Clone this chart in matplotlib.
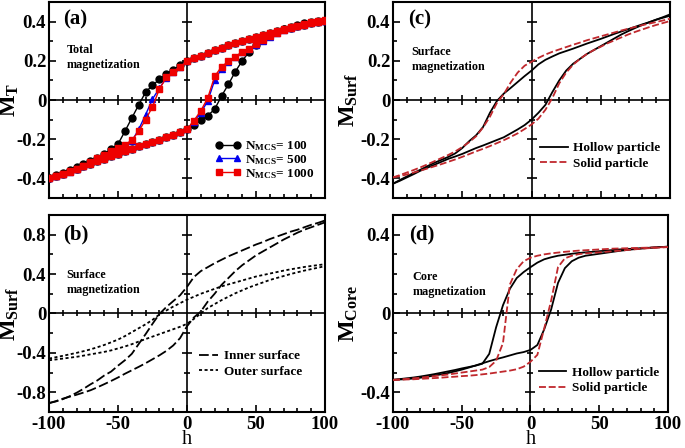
import matplotlib
matplotlib.use("Agg")
import matplotlib.pyplot as plt
from matplotlib.ticker import MultipleLocator, FuncFormatter
import numpy as np

plt.rcParams["font.family"] = "Liberation Serif"
plt.rcParams["font.weight"] = "bold"
plt.rcParams["mathtext.fontset"] = "custom"
plt.rcParams["mathtext.rm"] = "Liberation Serif:bold"
plt.rcParams["mathtext.it"] = "Liberation Serif:bold"
plt.rcParams["mathtext.bf"] = "Liberation Serif:bold"
plt.rcParams["axes.unicode_minus"] = False
plt.rcParams["lines.scale_dashes"] = False

# field values (same grid for every branch)
h = [-100, -95, -90, -85, -80, -75, -70, -65, -60, -55, -50, -45, -40, -35, -30,
     -25, -20, -15, -10, -5, 0, 5, 10, 15, 20, 25, 30, 35, 40, 45, 50, 55, 60,
     65, 70, 75, 80, 85, 90, 95, 100]

# (a) total magnetization, upper (field going down) and lower (field going up) branches
mt_upper_right = [0.197, 0.213, 0.227, 0.241, 0.254, 0.267, 0.279, 0.291, 0.302,
                  0.313, 0.323, 0.333, 0.342, 0.351, 0.360, 0.369, 0.377, 0.385,
                  0.393, 0.400, 0.405]
mt100_up = [-0.400, -0.385, -0.370, -0.355, -0.340, -0.325, -0.310, -0.295, -0.275,
            -0.250, -0.225, -0.160, -0.092, -0.025, 0.040, 0.075, 0.105, 0.135,
            0.155, 0.178] + mt_upper_right
mt100_low = [-0.400, -0.388, -0.376, -0.363, -0.350, -0.337, -0.325, -0.312, -0.300,
             -0.287, -0.275, -0.262, -0.249, -0.236, -0.224, -0.213, -0.203, -0.190,
             -0.180, -0.164, -0.150, -0.126, -0.103, -0.080, -0.047, 0.020, 0.080,
             0.145, 0.200, 0.245, 0.280, 0.310, 0.330, 0.348, 0.362, 0.373, 0.383,
             0.391, 0.397, 0.402, 0.405]
mt500_up = [-0.400, -0.390, -0.380, -0.367, -0.352, -0.336, -0.318, -0.298, -0.280,
            -0.262, -0.245, -0.228, -0.210, -0.150, -0.075, 0.005, 0.060, 0.113,
            0.145, 0.170] + mt_upper_right
mt500_low = [-0.400, -0.388, -0.376, -0.363, -0.350, -0.337, -0.325, -0.312, -0.300,
             -0.287, -0.275, -0.262, -0.249, -0.236, -0.224, -0.213, -0.203, -0.190,
             -0.180, -0.164, -0.150, -0.110, -0.065, -0.005, 0.100, 0.160, 0.195,
             0.220, 0.243, 0.260, 0.283, 0.303, 0.323, 0.340, 0.356, 0.369, 0.380,
             0.389, 0.396, 0.401, 0.405]
mt1000_up = [-0.400, -0.390, -0.380, -0.367, -0.352, -0.336, -0.318, -0.298, -0.280,
             -0.262, -0.245, -0.228, -0.205, -0.160, -0.100, -0.035, 0.056, 0.115,
             0.145, 0.170] + mt_upper_right
mt1000_low = [-0.400, -0.388, -0.376, -0.363, -0.350, -0.337, -0.325, -0.312, -0.300,
              -0.287, -0.275, -0.262, -0.249, -0.236, -0.224, -0.213, -0.203, -0.190,
              -0.180, -0.164, -0.150, -0.105, -0.055, 0.010, 0.120, 0.170, 0.197,
              0.222, 0.245, 0.262, 0.285, 0.305, 0.325, 0.342, 0.358, 0.370, 0.380,
              0.390, 0.396, 0.402, 0.407]

# (b) inner / outer surface of the hollow particle
inner_up = [-0.910, -0.893, -0.870, -0.840, -0.805, -0.765, -0.720, -0.680, -0.630,
            -0.590, -0.530, -0.475, -0.410, -0.310, -0.210, -0.105, -0.005, 0.065,
            0.125, 0.185, 0.270, 0.370, 0.430, 0.470, 0.510, 0.545, 0.580, 0.610,
            0.640, 0.670, 0.700, 0.725, 0.755, 0.780, 0.805, 0.830, 0.850, 0.875,
            0.900, 0.920, 0.944]
inner_low = [-0.910, -0.890, -0.865, -0.845, -0.825, -0.803, -0.780, -0.750, -0.718,
             -0.685, -0.650, -0.612, -0.577, -0.542, -0.505, -0.465, -0.425, -0.380,
             -0.325, -0.250, -0.130, -0.040, 0.020, 0.120, 0.200, 0.290, 0.360,
             0.430, 0.490, 0.540, 0.590, 0.630, 0.670, 0.710, 0.750, 0.785, 0.820,
             0.850, 0.875, 0.900, 0.925]
outer_up = [-0.458, -0.444, -0.430, -0.415, -0.400, -0.383, -0.365, -0.343, -0.320,
            -0.293, -0.265, -0.230, -0.190, -0.150, -0.110, -0.065, -0.010, 0.030,
            0.070, 0.105, 0.140, 0.170, 0.200, 0.225, 0.250, 0.275, 0.295, 0.315,
            0.335, 0.355, 0.375, 0.390, 0.405, 0.420, 0.435, 0.448, 0.460, 0.472,
            0.482, 0.491, 0.500]
outer_low = [-0.475, -0.467, -0.458, -0.449, -0.440, -0.428, -0.415, -0.403, -0.390,
             -0.375, -0.355, -0.335, -0.312, -0.285, -0.260, -0.235, -0.210, -0.185,
             -0.160, -0.135, -0.105, -0.055, 0.000, 0.055, 0.095, 0.135, 0.170,
             0.205, 0.235, 0.265, 0.290, 0.315, 0.340, 0.360, 0.380, 0.400, 0.418,
             0.435, 0.450, 0.465, 0.480]

# (c) surface magnetization: hollow vs solid particle
surf_hollow_up = [-0.427, -0.408, -0.390, -0.372, -0.355, -0.337, -0.320, -0.305,
                  -0.290, -0.272, -0.245, -0.210, -0.180, -0.138, -0.065, -0.005,
                  0.033, 0.062, 0.092, 0.122, 0.150, 0.182, 0.205, 0.222, 0.238,
                  0.250, 0.262, 0.275, 0.288, 0.300, 0.312, 0.325, 0.338, 0.350,
                  0.362, 0.374, 0.386, 0.397, 0.410, 0.423, 0.437]
surf_hollow_low = [-0.427, -0.412, -0.395, -0.378, -0.360, -0.345, -0.330, -0.315,
                   -0.300, -0.288, -0.275, -0.260, -0.245, -0.232, -0.218, -0.204,
                   -0.190, -0.170, -0.150, -0.128, -0.100, -0.065, -0.025, 0.040,
                   0.100, 0.150, 0.185, 0.210, 0.235, 0.255, 0.275, 0.295, 0.315,
                   0.335, 0.352, 0.368, 0.383, 0.397, 0.410, 0.420, 0.430]
surf_solid_up = [-0.395, -0.383, -0.370, -0.357, -0.343, -0.328, -0.312, -0.296,
                 -0.280, -0.262, -0.240, -0.215, -0.185, -0.140, -0.085, -0.015,
                 0.030, 0.090, 0.140, 0.175, 0.195, 0.215, 0.232, 0.246, 0.258,
                 0.270, 0.282, 0.293, 0.305, 0.315, 0.325, 0.335, 0.345, 0.355,
                 0.364, 0.373, 0.382, 0.390, 0.398, 0.406, 0.415]
surf_solid_low = [-0.395, -0.388, -0.380, -0.370, -0.360, -0.349, -0.338, -0.327,
                  -0.315, -0.303, -0.290, -0.276, -0.262, -0.249, -0.235, -0.220,
                  -0.205, -0.188, -0.170, -0.148, -0.125, -0.095, -0.050, 0.010,
                  0.085, 0.140, 0.180, 0.210, 0.235, 0.255, 0.272, 0.290, 0.305,
                  0.320, 0.335, 0.348, 0.360, 0.372, 0.383, 0.393, 0.403]

# (d) core magnetization: hollow vs solid particle
core_hollow_up = [-0.337, -0.333, -0.329, -0.325, -0.320, -0.314, -0.308, -0.301,
                  -0.294, -0.287, -0.279, -0.272, -0.265, -0.255, -0.205, -0.070,
                  0.042, 0.125, 0.180, 0.210, 0.235, 0.258, 0.275, 0.285, 0.293,
                  0.298, 0.303, 0.307, 0.310, 0.313, 0.316, 0.319, 0.322, 0.325,
                  0.327, 0.329, 0.331, 0.333, 0.335, 0.337, 0.339]
core_hollow_low = [-0.337, -0.335, -0.333, -0.330, -0.326, -0.321, -0.315, -0.309,
                   -0.302, -0.294, -0.285, -0.275, -0.264, -0.253, -0.242, -0.232,
                   -0.223, -0.213, -0.203, -0.196, -0.185, -0.160, -0.080, 0.020,
                   0.155, 0.230, 0.265, 0.283, 0.293, 0.298, 0.303, 0.308, 0.313,
                   0.318, 0.322, 0.326, 0.329, 0.332, 0.335, 0.337, 0.339]
core_solid_up = [-0.337, -0.335, -0.332, -0.329, -0.326, -0.322, -0.318, -0.314,
                 -0.310, -0.305, -0.300, -0.295, -0.290, -0.285, -0.272, -0.240,
                 -0.150, 0.147, 0.225, 0.265, 0.283, 0.293, 0.300, 0.305, 0.309,
                 0.313, 0.316, 0.319, 0.321, 0.323, 0.325, 0.327, 0.329, 0.330,
                 0.331, 0.332, 0.333, 0.334, 0.335, 0.336, 0.337]
core_solid_low = [-0.337, -0.336, -0.335, -0.334, -0.332, -0.330, -0.328, -0.326,
                  -0.323, -0.321, -0.318, -0.316, -0.313, -0.309, -0.305, -0.300,
                  -0.295, -0.290, -0.283, -0.270, -0.245, -0.210, -0.075, 0.065,
                  0.235, 0.280, 0.293, 0.301, 0.305, 0.308, 0.310, 0.313, 0.316,
                  0.319, 0.322, 0.325, 0.328, 0.331, 0.333, 0.335, 0.337]


def fmt(v, pos):
    if abs(v) < 1e-9:
        return "0"
    return f"{v:g}"


def style_axes(ax, ymajor, yminor, ylim, xlabels):
    ax.set_xlim(-100, 100)
    ax.set_ylim(*ylim)
    ax.xaxis.set_major_locator(MultipleLocator(50))
    ax.xaxis.set_minor_locator(MultipleLocator(10))
    ax.yaxis.set_major_locator(MultipleLocator(ymajor))
    ax.yaxis.set_minor_locator(MultipleLocator(yminor))
    ax.yaxis.set_major_formatter(FuncFormatter(fmt))
    ax.xaxis.set_major_formatter(FuncFormatter(fmt))
    ax.tick_params(which="both", direction="in", top=False, right=False,
                   width=1.2, labelsize=13.5)
    ax.tick_params(which="major", length=5)
    ax.tick_params(which="minor", length=3)
    ax.tick_params(axis="x", pad=3, labelbottom=xlabels)
    ax.tick_params(axis="y", pad=2)
    for s in ax.spines.values():
        s.set_linewidth(1.5)
    ax.axhline(0, color="black", lw=1.2, zorder=1)
    ax.axvline(0, color="black", lw=1.2, zorder=1)
    # ticks crossing the zero lines
    xt = [v for v in ax.xaxis.get_majorticklocs() if -100 < v < 100 and v != 0]
    xm = [v for v in ax.xaxis.get_minorticklocs() if -100 < v < 100 and v % 50 != 0]
    yt = [v for v in ax.yaxis.get_majorticklocs() if ylim[0] < v < ylim[1] and abs(v) > 1e-9]
    ym = [v for v in ax.yaxis.get_minorticklocs() if ylim[0] < v < ylim[1]
          and min(abs(v - t) for t in list(yt) + [0]) > 1e-6]
    ax.plot(xt, [0] * len(xt), ls="none", marker="|", ms=7, mew=1.2, color="black")
    ax.plot(xm, [0] * len(xm), ls="none", marker="|", ms=4.5, mew=1.2, color="black")
    ax.plot([0] * len(yt), yt, ls="none", marker="_", ms=7, mew=1.2, color="black")
    ax.plot([0] * len(ym), ym, ls="none", marker="_", ms=4.5, mew=1.2, color="black")


fig = plt.figure(figsize=(6.85, 4.48), dpi=100)
ax_a = fig.add_axes([0.0715, 0.558, 0.403, 0.4375])
ax_b = fig.add_axes([0.0715, 0.0804, 0.403, 0.4398])
ax_c = fig.add_axes([0.5737, 0.558, 0.4045, 0.4375])
ax_d = fig.add_axes([0.5737, 0.0804, 0.4015, 0.4398])

# (a)
style_axes(ax_a, 0.2, 0.1, (-0.5, 0.5), False)
for up, low, col, mk, ms, lab in [
        (mt100_up, mt100_low, "black", "o", 5, r"$\mathrm{N_{MCS}}$= 100"),
        (mt500_up, mt500_low, "#0000ee", "^", 4.5, r"$\mathrm{N_{MCS}}$= 500"),
        (mt1000_up, mt1000_low, "#ee0000", "s", 4.2, r"$\mathrm{N_{MCS}}$= 1000")]:
    ax_a.plot(h, up, color=col, marker=mk, ms=ms, lw=1, label=lab, zorder=3)
    ax_a.plot(h, low, color=col, marker=mk, ms=ms, lw=1, zorder=3)
ax_a.legend(loc="upper left", bbox_to_anchor=(0.6, 0.30), frameon=False,
            fontsize=9.5, numpoints=2, handlelength=2.0, handletextpad=0.3,
            labelspacing=0.0, borderpad=0, borderaxespad=0)
ax_a.text(0.065, 0.785, "Total\nmagnetization", transform=ax_a.transAxes,
          fontsize=8.7, va="top", ha="left", linespacing=1.3)
ax_a.text(0.05, 0.96, "(a)", transform=ax_a.transAxes, fontsize=15, va="top")
ax_a.set_ylabel(r"$\mathrm{M_T}$", fontsize=16.5)
ax_a.yaxis.set_label_coords(-0.1, 0.5)

# (b)
style_axes(ax_b, 0.4, 0.2, (-1.0, 1.0), True)
ax_b.plot(h, inner_up, color="black", lw=1.3, dashes=(7, 2.5), label="Inner surface")
ax_b.plot(h, inner_low, color="black", lw=1.3, dashes=(7, 2.5))
ax_b.plot(h, outer_up, color="black", lw=1.3, dashes=(2.2, 1.8), label="Outer surface")
ax_b.plot(h, outer_low, color="black", lw=1.3, dashes=(2.2, 1.8))
ax_b.legend(loc="upper left", bbox_to_anchor=(0.545, 0.315), frameon=False,
            fontsize=9.5, handlelength=1.4, handletextpad=0.45,
            labelspacing=0.25, borderpad=0, borderaxespad=0)
ax_b.text(0.064, 0.725, "Surface\nmagnetization", transform=ax_b.transAxes,
          fontsize=8.7, va="top", ha="left", linespacing=1.3)
ax_b.text(0.05, 0.95, "(b)", transform=ax_b.transAxes, fontsize=15, va="top")
ax_b.set_ylabel(r"$\mathrm{M_{Surf}}$", fontsize=16.5)
ax_b.yaxis.set_label_coords(-0.1, 0.5)
ax_b.set_xlabel("h", fontsize=14.5)
ax_b.xaxis.set_label_coords(0.5, -0.16)
ax_b.xaxis.label.set_va("baseline")

# (c)
style_axes(ax_c, 0.2, 0.1, (-0.5, 0.5), False)
ax_c.plot(h, surf_hollow_up, color="black", lw=1.3, label="Hollow particle", zorder=3)
ax_c.plot(h, surf_hollow_low, color="black", lw=1.3, zorder=3)
ax_c.plot(h, surf_solid_up, color="#c0282d", lw=1.3, dashes=(5, 2),
          label="Solid particle", zorder=3)
ax_c.plot(h, surf_solid_low, color="#c0282d", lw=1.3, dashes=(5, 2), zorder=3)
ax_c.legend(loc="upper left", bbox_to_anchor=(0.53, 0.285), frameon=False,
            fontsize=9.5, handlelength=2.1, handletextpad=0.45,
            labelspacing=0.25, borderpad=0, borderaxespad=0)
ax_c.text(0.067, 0.775, "Surface\nmagnetization", transform=ax_c.transAxes,
          fontsize=8.7, va="top", ha="left", linespacing=1.3)
ax_c.text(0.054, 0.96, "(c)", transform=ax_c.transAxes, fontsize=15, va="top")
ax_c.set_ylabel(r"$\mathrm{M_{Surf}}$", fontsize=16.5)
ax_c.yaxis.set_label_coords(-0.12, 0.5)

# (d)
style_axes(ax_d, 0.4, 0.1, (-0.5, 0.5), True)
ax_d.plot(h, core_hollow_up, color="black", lw=1.3, label="Hollow particle", zorder=3)
ax_d.plot(h, core_hollow_low, color="black", lw=1.3, zorder=3)
ax_d.plot(h, core_solid_up, color="#c0282d", lw=1.3, dashes=(5, 2),
          label="Solid particle", zorder=3)
ax_d.plot(h, core_solid_low, color="#c0282d", lw=1.3, dashes=(5, 2), zorder=3)
ax_d.legend(loc="upper left", bbox_to_anchor=(0.53, 0.23), frameon=False,
            fontsize=9.5, handlelength=2.1, handletextpad=0.45,
            labelspacing=0.25, borderpad=0, borderaxespad=0)
ax_d.text(0.071, 0.715, "Core\nmagnetization", transform=ax_d.transAxes,
          fontsize=8.7, va="top", ha="left", linespacing=1.3)
ax_d.text(0.06, 0.95, "(d)", transform=ax_d.transAxes, fontsize=15, va="top")
ax_d.set_ylabel(r"$\mathrm{M_{Core}}$", fontsize=16.5)
ax_d.yaxis.set_label_coords(-0.12, 0.5)
ax_d.set_xlabel("h", fontsize=14.5)
ax_d.xaxis.set_label_coords(0.5, -0.16)
ax_d.xaxis.label.set_va("baseline")

fig.savefig("out.png", dpi=100)
